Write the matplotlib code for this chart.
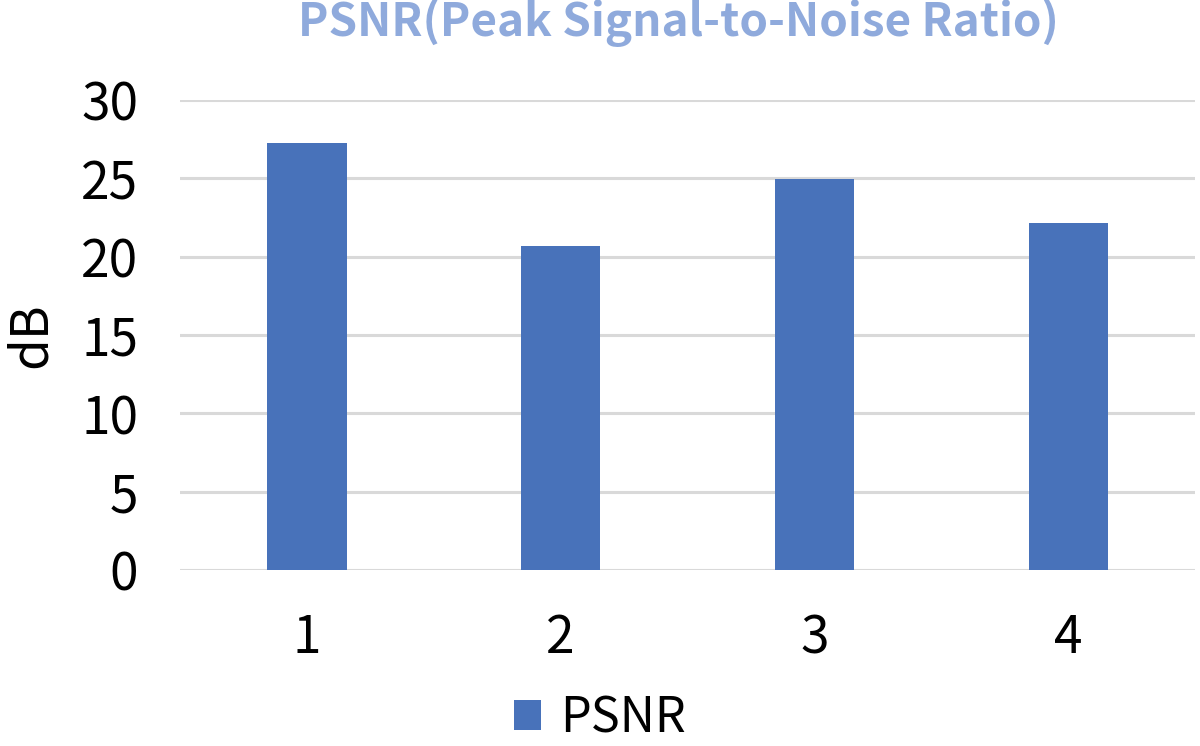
import matplotlib
matplotlib.use("Agg")
import matplotlib.pyplot as plt
from matplotlib.patches import Patch

categories = ["1", "2", "3", "4"]
psnr = [27.24, 20.70, 24.96, 22.13]
yticks = [0, 5, 10, 15, 20, 25, 30]

plt.rcParams['font.family'] = ['Noto Sans CJK SC', 'DejaVu Sans']

fig = plt.figure(figsize=(12, 7.46), dpi=100)
ax = fig.add_axes([0.15, 0.236, 0.846, 0.630])
x = list(range(len(categories)))
ax.bar(x, psnr, width=0.313, color="#4872BA", zorder=3)
ax.set_xlim(-0.5, 3.5)
ax.set_ylim(0, 30)
ax.set_yticks(yticks)
ax.set_xticks(x)
ax.set_xticklabels(categories)
ax.yaxis.grid(True, color="#D9D9D9", linewidth=2.2, zorder=0)
for s in ax.spines.values():
    s.set_visible(False)
ax.tick_params(axis='both', length=0, labelsize=37)
ax.tick_params(axis='y', pad=30)
ax.tick_params(axis='x', pad=30)
ax.set_ylabel("dB", fontsize=37)
ax.yaxis.set_label_coords(-0.12, 0.5)

fig.text(0.565, 0.97, "PSNR(Peak Signal-to-Noise Ratio)", ha='center', va='center',
         fontsize=33, fontweight='bold', color="#8FAADC")

handles = [Patch(facecolor="#4872BA", label="PSNR")]
fig.legend(handles=handles, loc='center', bbox_to_anchor=(0.5, 0.037), frameon=False,
           prop={'size': 35},
           handlelength=0.55, handleheight=0.55, handletextpad=0.4)

fig.savefig("out.png", dpi=100)
